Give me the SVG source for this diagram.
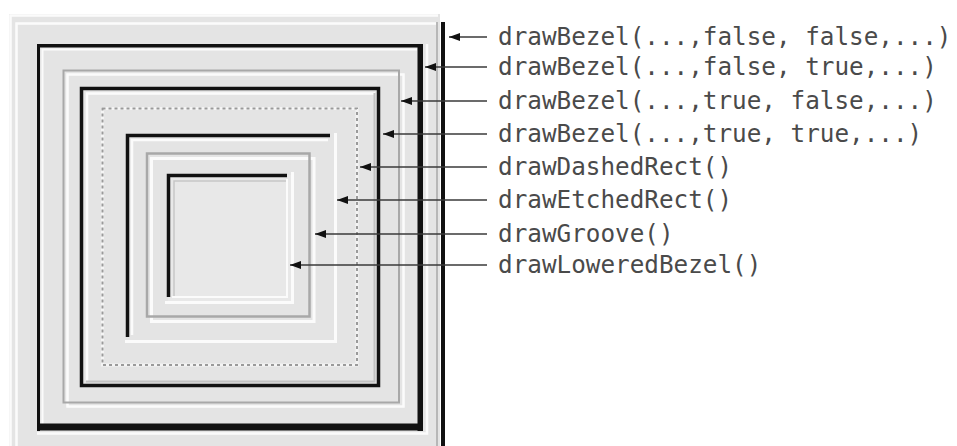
<svg xmlns="http://www.w3.org/2000/svg" width="957" height="446" viewBox="0 0 957 446">
  <defs>
    <style>
      .blk { stroke: #111; fill: none; }
      .wht { stroke: #fbfbfb; fill: none; }
      .gry { stroke: #a8a8a8; fill: none; }
      .lbl { font-family: "DejaVu Sans Mono", "Liberation Mono", monospace; font-size: 24.3px; fill: #4a4a4a; }
      .conn { stroke: #3a3a3a; stroke-width: 1.3; fill: none; marker-end: url(#ah); }
    </style>
    <marker id="ah" markerUnits="userSpaceOnUse" markerWidth="12" markerHeight="9" refX="11" refY="4" orient="auto">
      <path d="M0,0 L11,4 L0,8 z" fill="#111"/>
    </marker>
  </defs>
  <rect width="957" height="446" fill="#ffffff"/>

  <g id="bezel-false-false">
    <rect x="9" y="14" width="431" height="432" fill="#e4e4e4"/>
    <path class="wht" stroke-width="2.5" d="M10.5,446 V15.5 H438"/>
    <path class="wht" stroke-width="2.5" d="M16.5,446 V23.5 H436"/>
    <path class="gry" stroke-width="1.5" d="M437,22 V446"/>
    <rect x="441" y="22" width="4" height="424" fill="#111"/>
  </g>

  <g id="bezel-false-true">
    <path class="wht" stroke-width="2" d="M42.5,426 V49.5 H417"/>
    <path class="wht" stroke-width="2.5" d="M37,433.5 H427 V44"/>
    <rect x="37" y="44" width="386" height="3.5" fill="#111"/>
    <rect x="37" y="44" width="3" height="387" fill="#111"/>
    <rect x="417.5" y="44" width="5.5" height="387" fill="#111"/>
    <rect x="37" y="423.5" width="386" height="7" fill="#111"/>
  </g>

  <g id="bezel-true-false">
    <rect class="wht" stroke-width="2.5" x="67.5" y="74.5" width="336" height="332"/>
    <rect class="gry" stroke-width="2" x="63.5" y="70.5" width="335.5" height="332"/>
  </g>

  <g id="bezel-true-true">
    <path class="wht" stroke-width="2.5" d="M87,381 V93.5 H375"/>
    <path stroke="#c2c2c2" stroke-width="2" fill="none" d="M86,381.5 H374.5 V93"/>
    <rect class="blk" stroke-width="3.5" x="81.5" y="88.5" width="297" height="297"/>
  </g>

  <g id="dashed-rect">
    <rect fill="none" stroke="#f4f4f4" stroke-width="3" x="102.5" y="108.5" width="254.5" height="256.5"/>
    <rect fill="none" stroke="#9a9a9a" stroke-width="2" stroke-dasharray="3 3" x="102.5" y="108.5" width="254.5" height="256.5"/>
  </g>

  <g id="etched-rect">
    <path class="wht" stroke-width="3" d="M125,341.5 H335.5 V133"/>
    <path class="wht" stroke-width="2.5" d="M132,335 V140 H328"/>
    <path class="blk" stroke-width="3.5" d="M127.5,337 V135.5 H330"/>
  </g>

  <g id="groove">
    <rect class="wht" stroke-width="3" x="151.5" y="158.5" width="162.5" height="163"/>
    <rect class="gry" stroke-width="2.5" x="147" y="153.5" width="162.5" height="163"/>
  </g>

  <g id="lowered-bezel">
    <rect x="168" y="175" width="123" height="126" fill="#e8e8e8"/>
    <path class="wht" stroke-width="3" d="M165,302.5 H292.5 V172"/>
    <path class="wht" stroke-width="2" d="M172,297 H287 V179"/>
    <path stroke="#c6c6c6" stroke-width="1.5" fill="none" d="M174,296 V181 H286"/>
    <path class="blk" stroke-width="3.5" d="M168.5,297 V175.5 H287"/>
  </g>

  <g id="connectors">
    <path class="conn" d="M487,37 H449"/>
    <path class="conn" d="M487,67 H425"/>
    <path class="conn" d="M487,101 H401"/>
    <path class="conn" d="M487,134 H383"/>
    <path class="conn" d="M487,167 H360"/>
    <path class="conn" d="M487,200 H337"/>
    <path class="conn" d="M487,234 H315"/>
    <path class="conn" d="M487,265 H290"/>
  </g>

  <g id="label-bezel-ff"><text class="lbl" x="498" y="45">drawBezel(...,false, false,...)</text></g>
  <g id="label-bezel-ft"><text class="lbl" x="498" y="75">drawBezel(...,false, true,...)</text></g>
  <g id="label-bezel-tf"><text class="lbl" x="498" y="109">drawBezel(...,true, false,...)</text></g>
  <g id="label-bezel-tt"><text class="lbl" x="498" y="142">drawBezel(...,true, true,...)</text></g>
  <g id="label-dashed"><text class="lbl" x="498" y="175">drawDashedRect()</text></g>
  <g id="label-etched"><text class="lbl" x="498" y="208">drawEtchedRect()</text></g>
  <g id="label-groove"><text class="lbl" x="498" y="242">drawGroove()</text></g>
  <g id="label-lowered"><text class="lbl" x="498" y="273">drawLoweredBezel()</text></g>
</svg>
